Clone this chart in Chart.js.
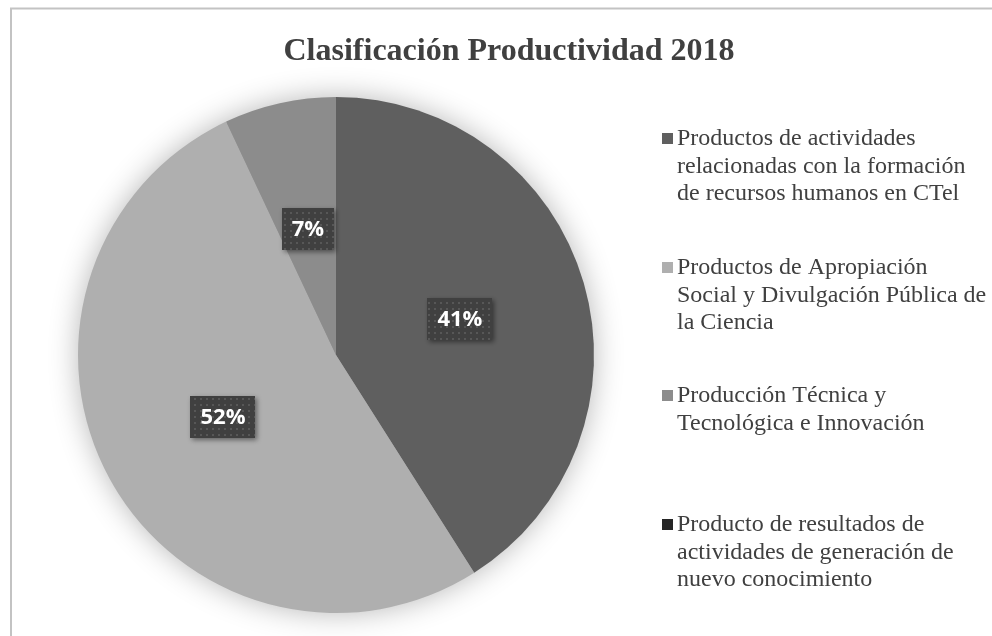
<!DOCTYPE html>
<html>
<head>
<meta charset="utf-8">
<title>Clasificación Productividad 2018</title>
<script src="https://cdn.jsdelivr.net/npm/chart.js"></script>
<style>
    html, body { margin: 0; padding: 0; background: #ffffff; }
    #wrap { width: 992px; height: 636px; position: relative; }
</style>
</head>
<body>
<div id="wrap"><canvas id="productividad" width="992" height="636"></canvas></div>
<script>
const chartTitle = 'Clasificación Productividad 2018';
// each category is split into the lines shown in the legend
const categories = [
    ['Productos de actividades', 'relacionadas con la formación', 'de recursos humanos en CTel'],
    ['Productos de Apropiación', 'Social y Divulgación Pública de', 'la Ciencia'],
    ['Producción Técnica y', 'Tecnológica e Innovación'],
    ['Producto de resultados de', 'actividades de generación de', 'nuevo conocimiento']
];
const percentages = [41, 52, 7, 0];
const sliceColors = ['#5f5f5f', '#afafaf', '#8c8c8c', '#262626'];

// baseline of the first text line of every legend entry
const legendTops = [145, 274, 402, 531];
const legendLineHeight = 27.5;

function dotPattern(ctx) {
    const tile = document.createElement('canvas');
    tile.width = 6;
    tile.height = 6;
    const t = tile.getContext('2d');
    t.fillStyle = '#404040';
    t.fillRect(0, 0, 6, 6);
    t.fillStyle = '#575757';
    t.fillRect(2, 2, 2, 2);
    return ctx.createPattern(tile, 'repeat');
}

const frame = {
    id: 'frame',
    beforeDraw(chart) {
        const ctx = chart.ctx;
        ctx.save();
        ctx.fillStyle = '#ffffff';
        ctx.fillRect(0, 0, chart.width, chart.height);
        ctx.strokeStyle = '#c3c3c3';
        ctx.lineWidth = 2;
        ctx.beginPath();
        ctx.moveTo(11, chart.height + 2);
        ctx.lineTo(11, 8.5);
        ctx.lineTo(chart.width + 2, 8.5);
        ctx.stroke();

        ctx.fillStyle = '#404040';
        ctx.font = 'bold 32px "Liberation Serif"';
        ctx.textAlign = 'center';
        ctx.textBaseline = 'alphabetic';
        ctx.fillText(chartTitle, 509, 60);
        ctx.restore();
    },
    beforeDatasetsDraw(chart) {
        // soft glow behind the whole pie
        const arc = chart.getDatasetMeta(0).data[0];
        const ctx = chart.ctx;
        ctx.save();
        ctx.shadowColor = 'rgba(0,0,0,0.3)';
        ctx.shadowBlur = 30;
        ctx.fillStyle = '#9a9a9a';
        ctx.beginPath();
        ctx.arc(arc.x, arc.y, arc.outerRadius - 1, 0, Math.PI * 2);
        ctx.fill();
        ctx.restore();
    },
    afterDatasetsDraw(chart) {
        const ctx = chart.ctx;
        const pattern = dotPattern(ctx);
        ctx.save();
        ctx.font = 'bold 22px "Open Sans"';
        ctx.textAlign = 'center';
        ctx.textBaseline = 'middle';
        chart.getDatasetMeta(0).data.forEach((arc, i) => {
            const value = percentages[i];
            if (!value) return;
            const pos = arc.tooltipPosition();
            const text = value + '%';
            const w = ctx.measureText(text).width + 20;
            const h = 42;
            ctx.save();
            ctx.shadowColor = 'rgba(0,0,0,0.45)';
            ctx.shadowBlur = 5;
            ctx.shadowOffsetX = 2;
            ctx.shadowOffsetY = 2;
            ctx.fillStyle = pattern;
            ctx.fillRect(Math.round(pos.x - w / 2), Math.round(pos.y - h / 2), Math.round(w), h);
            ctx.restore();
            ctx.fillStyle = '#ffffff';
            ctx.fillText(text, pos.x, pos.y + 1);
        });
        ctx.restore();
    },
    afterDraw(chart) {
        const ctx = chart.ctx;
        ctx.save();
        ctx.font = '24px "Liberation Serif"';
        ctx.textBaseline = 'alphabetic';
        ctx.textAlign = 'left';
        categories.forEach((lines, i) => {
            const top = legendTops[i];
            ctx.fillStyle = sliceColors[i];
            ctx.fillRect(662, top - 12, 11, 11);
            ctx.fillStyle = '#404040';
            lines.forEach((line, j) => {
                ctx.fillText(line, 677, top + j * legendLineHeight);
            });
        });
        ctx.restore();
    }
};

function createChart() {
    new Chart(document.getElementById('productividad'), {
        type: 'pie',
        data: {
            labels: categories.map(lines => lines.join(' ')),
            datasets: [{
                data: percentages,
                backgroundColor: sliceColors,
                borderWidth: 0,
                hoverOffset: 0
            }]
        },
        options: {
            responsive: false,
            animation: false,
            events: [],
            layout: {
                padding: { left: 78, top: 97, right: 398, bottom: 23 }
            },
            plugins: {
                legend: { display: false },
                title: { display: false },
                tooltip: { enabled: false }
            }
        },
        plugins: [frame]
    });
}

Promise.all([
    document.fonts.load('bold 32px "Liberation Serif"'),
    document.fonts.load('24px "Liberation Serif"'),
    document.fonts.load('bold 22px "Open Sans"')
]).then(createChart, createChart);
</script>
</body>
</html>
